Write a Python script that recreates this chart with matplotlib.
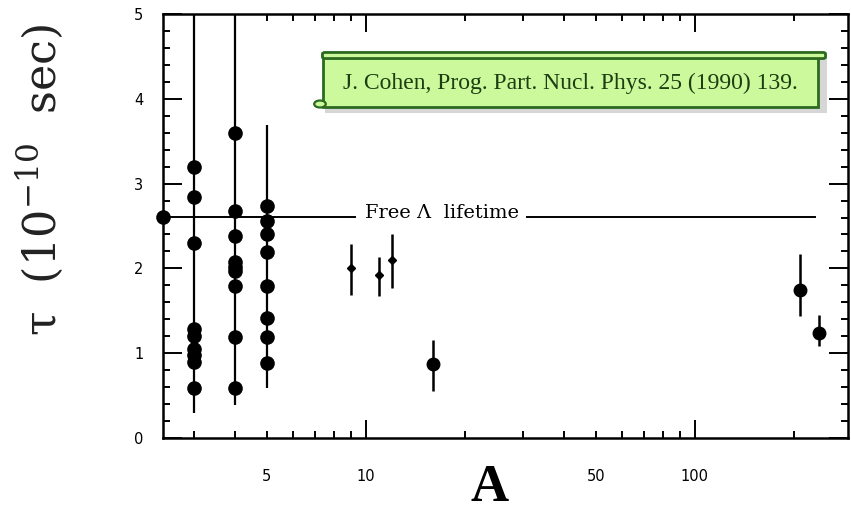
import numpy as np
import matplotlib
matplotlib.use("Agg")
import matplotlib.pyplot as plt
from matplotlib.patches import Rectangle, FancyBboxPatch, Circle
from matplotlib.ticker import FixedLocator, FuncFormatter

plt.rcParams["mathtext.fontset"] = "dejavuserif"

# Lambda hypernucleus lifetimes (units of 1e-10 s) vs mass number A
# light hypernuclei, one column of measurements per A
col_A = [3, 4, 5]
col_lo = [0.29, 0.39, 0.59]   # extent of the error lines
col_hi = [5.0, 5.0, 3.69]
dots_A3 = [3.19, 2.84, 2.30, 1.28, 1.20, 1.05, 0.98, 0.90, 0.59]
dots_A4 = [3.60, 2.68, 2.38, 2.07, 2.02, 1.97, 1.79, 1.19, 0.59]
dots_A5 = [2.73, 2.56, 2.41, 2.19, 1.79, 1.41, 1.19, 0.89]

# heavier hypernuclei with error bars
big_A = [16, 209, 238]
big_tau = [0.87, 1.75, 1.24]
big_lo = [0.55, 1.44, 1.09]
big_hi = [1.16, 2.17, 1.45]

small_A = [9, 11, 12]
small_tau = [2.00, 1.92, 2.10]
small_lo = [1.69, 1.67, 1.77]
small_hi = [2.29, 2.13, 2.41]

# free lambda lifetime
free_tau = 2.61
x_left, x_right = 2.42, 292

W, H = 851, 514
fig = plt.figure(figsize=(W / 100, H / 100), dpi=100)
ax = fig.add_axes([163 / W, 1 - 438 / H, 685 / W, 424 / H])

# vertical lines through the light columns
ax.vlines(col_A, col_lo, col_hi, color="black", lw=1.6)
for a, vals in zip(col_A, [dots_A3, dots_A4, dots_A5]):
    ax.plot([a] * len(vals), vals, "o", color="black", ms=9.5)

ax.errorbar(big_A, big_tau,
            yerr=[np.subtract(big_tau, big_lo), np.subtract(big_hi, big_tau)],
            fmt="o", color="black", ms=9, elinewidth=1.8, capsize=0)
ax.errorbar(small_A, small_tau,
            yerr=[np.subtract(small_tau, small_lo), np.subtract(small_hi, small_tau)],
            fmt="D", color="black", ms=4.5, elinewidth=1.8, capsize=0)

# free lambda line with label
ax.plot([x_left], [free_tau], "o", color="black", ms=9.5, clip_on=False, zorder=5)
ax.plot([x_left, 9.26], [free_tau, free_tau], color="black", lw=1.4)
ax.plot([30.8, 232], [free_tau, free_tau], color="black", lw=1.4)
ax.text(9.93, free_tau + 0.04, "Free \u039b  lifetime", fontsize=14,
        family="DejaVu Serif", va="center", ha="left")

ax.set_xscale("log")
ax.set_xlim(x_left, x_right)
ax.set_ylim(0, 5)

# ticks on all four sides, pointing in
ax.xaxis.set_major_locator(FixedLocator([10, 100]))
minors = [3, 4, 5, 6, 7, 8, 9, 20, 30, 40, 50, 60, 70, 80, 90, 200]
ax.xaxis.set_minor_locator(FixedLocator(minors))
ax.xaxis.set_major_formatter(FuncFormatter(lambda v, p: "%d" % v))
ax.xaxis.set_minor_formatter(FuncFormatter(lambda v, p: "%d" % v if v in (5, 50) else ""))
ax.set_yticks(range(0, 6))
ax.set_yticks(np.arange(0, 5.01, 0.2), minor=True)

ax.tick_params(which="both", direction="in", top=True, right=True, width=1.4,
               labelsize=10.5, colors="black")
ax.tick_params(axis="x", which="major", length=13, pad=22)
ax.tick_params(axis="x", which="minor", length=5, pad=22)
ax.tick_params(axis="y", which="major", length=14, pad=14)
ax.tick_params(axis="y", which="minor", length=5)
for sp in ax.spines.values():
    sp.set_linewidth(1.8)

# axis titles
fig.text(40 / W, 1 - 180 / H, "\u03c4  (10$^{-10}$  sec)", rotation=90,
         ha="center", va="center", fontsize=32, family="DejaVu Serif",
         color="#222222")
fig.text(490 / W, 1 - 501 / H, "A", ha="center", va="baseline", fontsize=38,
         family="Liberation Serif", weight="bold")


# reference note in a green scroll box (figure pixel coords, top-left origin)
def fx(x):
    return x / W


def fy(y):
    return 1 - y / H


green_fill = "#cbf99b"
green_edge = "#2c6a1f"
shadow = Rectangle((fx(325), fy(113)), fx(502), 55 / H, transform=fig.transFigure,
                   facecolor="#9a9a9a", alpha=0.4, edgecolor="none")
body = Rectangle((fx(323), fy(107)), fx(495), 50 / H, transform=fig.transFigure,
                 facecolor=green_fill, edgecolor=green_edge, lw=2)
roll = FancyBboxPatch((fx(325), fy(57)), fx(498), 3 / H,
                      boxstyle="round,pad=0.003", transform=fig.transFigure,
                      facecolor=green_fill, edgecolor=green_edge, lw=2)
curl = Circle((fx(320), fy(104)), 3.5 / H, transform=fig.transFigure,
              facecolor=green_fill, edgecolor=green_edge, lw=1.6)
for p in [shadow, body, roll, curl]:
    fig.add_artist(p)
fig.text(fx(570), fy(83), "J. Cohen, Prog. Part. Nucl. Phys. 25 (1990) 139.",
         ha="center", va="center", fontsize=17, family="Liberation Serif",
         color="#1d3d12")

fig.savefig("out.png", dpi=100)
